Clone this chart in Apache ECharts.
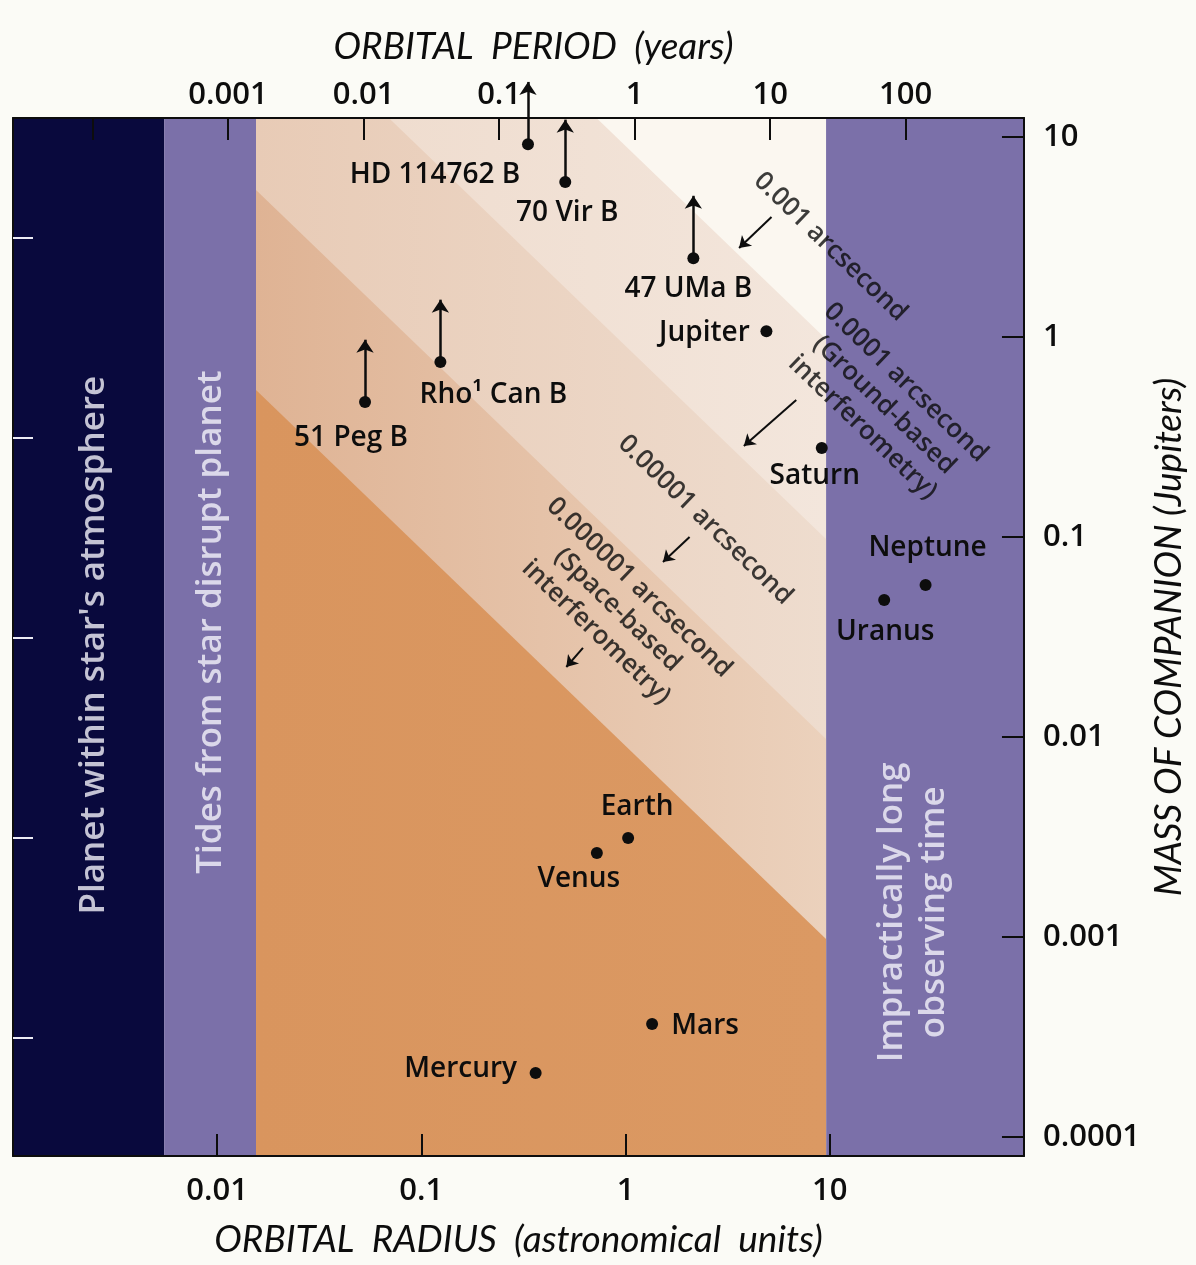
<!DOCTYPE html>
<html>
<head>
<meta charset="utf-8">
<script src="https://cdn.jsdelivr.net/npm/echarts@6/dist/echarts.min.js"></script>
<style>
  html, body { margin: 0; padding: 0; background: #fbfbf6; }
  #chart { width: 1196px; height: 1265px; }
</style>
</head>
<body>
<div id="chart"></div>
<script>
// Axis extents: orbital radius (AU), companion mass (Jupiter masses), orbital period (years)
const RADIUS_RANGE = [0.001, 89.5];
const MASS_RANGE = [8.04e-5, 12.45];
const PERIOD_RANGE = [2.59e-5, 746];
const EARTH_MASSES_PER_JUPITER = 317.8;

const RADIUS_TICKS = ['0.01', '0.1', '1', '10'];
const PERIOD_TICKS = ['0.001', '0.01', '0.1', '1', '10', '100'];
const MASS_TICKS = ['0.0001', '0.001', '0.01', '0.1', '1', '10'];

// Zone limits (AU)
const STAR_SURFACE = 0.0055;
const TIDAL_LIMIT = 0.0155;
const OBSERVING_LIMIT = 9.6;

// Astrometric detection thresholds: companion mass at the inner and outer zone limits
const thresholdNames = [
  '0.001 arcsecond',
  '0.0001 arcsecond\n(Ground-based\ninterferometry)',
  '0.00001 arcsecond',
  '0.000001 arcsecond\n(Space-based\ninterferometry)'
];
const thresholdInnerMass = [543, 54.3, 5.43, 0.543];
const thresholdOuterMass = [0.977, 0.0977, 0.00977, 0.000977];
const thresholdLabelRadius = [10.1, 18.5, 2.46, 0.915];
const thresholdLabelMass = [2.82, 0.457, 0.1216, 0.0432];
const thresholdArrowFrom = [[5.19, 3.98], [6.86, 0.484], [2.06, 0.1], [0.619, 0.0279]];
const thresholdArrowTo = [[3.6, 2.79], [3.8, 0.285], [1.526, 0.075], [0.513, 0.0224]];

// Known companions
const companionNames = ['HD 114762 B', '70 Vir B', '47 UMa B', 'Rho\u00b9 Can B', '51 Peg B',
  'Jupiter', 'Saturn', 'Uranus', 'Neptune', 'Earth', 'Venus', 'Mars', 'Mercury'];
const companionRadius = [0.333, 0.507, 2.15, 0.124, 0.053, 4.9, 9.15, 18.5, 29.5, 1.03, 0.724, 1.35, 0.363];
const companionMass = [9.2, 5.96, 2.48, 0.75, 0.473, 1.07, 0.279, 0.0484, 0.0575, 0.00313, 0.00263, 0.000367, 0.000209];
const massIsLowerLimit = [true, true, true, true, true, false, false, false, false, false, false, false, false];

// Excluded zones
const zoneNames = ["Planet within star's atmosphere", 'Tides from star disrupt planet', 'Impractically long\nobserving time'];
const zoneLabelRadius = [0.00249, 0.00935, 25.5];
const zoneLabelMass = [0.0288, 0.0376, 0.00133];

// ---- styling ----
const INK = '#0d0d0d';
const NAVY = '#09093d';
const PURPLE = '#7b70a9';
const ARROW_SPAN = 2.05;       // mass ratio between a lower-limit dot and its arrow tip
const LABEL_OFFSET = {
  'HD 114762 B': [-93, 31], '70 Vir B': [2, 31], '47 UMa B': [-5, 31],
  'Rho\u00b9 Can B': [53, 33], '51 Peg B': [-14, 36], 'Jupiter': [-62, 2],
  'Saturn': [-7, 28], 'Uranus': [1, 32], 'Neptune': [2, -37], 'Earth': [9, -31],
  'Venus': [-18, 26], 'Mars': [53, 2], 'Mercury': [-75, -4]
};
const BAND_COLORS = [
  ['#eedacb', '#f3e6dc'],
  ['#e8cbb6', '#eedcce'],
  ['#dfb394', '#ebd1bc'],
  ['#d9955e', '#db9963']
];
const SANS = '"Open Sans", "DejaVu Sans", sans-serif';
const TITLE = { fontFamily: 'Lato, "Open Sans", sans-serif', fontStyle: 'italic', fontSize: 37, color: INK };

const [aMin, aMax] = RADIUS_RANGE;
const [mMin, mMax] = MASS_RANGE;
const rect = (a0, a1) => [[a0, mMin], [a1, mMin], [a1, mMax], [a0, mMax]];
const grad = (c) => new echarts.graphic.LinearGradient(0, 0, 1, 0, [
  { offset: 0, color: c[0] }, { offset: 1, color: c[1] }
]);

const regions = [
  { poly: rect(aMin, STAR_SURFACE), fill: NAVY },
  { poly: rect(STAR_SURFACE, TIDAL_LIMIT), fill: PURPLE },
  { poly: rect(OBSERVING_LIMIT, aMax), fill: PURPLE },
  { poly: rect(TIDAL_LIMIT, OBSERVING_LIMIT), fill: '#fbf7f0' }
].concat(thresholdNames.map((_, i) => ({
  poly: [[TIDAL_LIMIT, thresholdInnerMass[i]], [OBSERVING_LIMIT, thresholdOuterMass[i]],
         [OBSERVING_LIMIT, mMin], [TIDAL_LIMIT, mMin]],
  fill: grad(BAND_COLORS[i])
})));

function tickFormatter(list) {
  return (v) => {
    const hit = list.find(t => Math.abs(Math.log10(+t) - Math.log10(v)) < 1e-6);
    return hit || '';
  };
}

const axisCommon = {
  type: 'log',
  logBase: 10,
  splitLine: { show: false },
  axisLine: { show: true, lineStyle: { color: INK, width: 2 } },
  axisTick: { show: true, inside: true, length: 22, lineStyle: { color: INK, width: 2 } },
  axisLabel: { fontFamily: SANS, fontWeight: 600, fontSize: 31, color: INK }
};

const chart = echarts.init(document.getElementById('chart'), null, { renderer: 'canvas' });

chart.setOption({
  animation: false,
  backgroundColor: '#fbfbf6',
  grid: { left: 13, right: 158, top: 118, bottom: 109 },
  xAxis: [
    Object.assign({}, axisCommon, {
      position: 'bottom', min: RADIUS_RANGE[0], max: RADIUS_RANGE[1], z: 6,
      axisLabel: Object.assign({}, axisCommon.axisLabel, { margin: 20, formatter: tickFormatter(RADIUS_TICKS) }),
      name: 'ORBITAL  RADIUS  (astronomical  units)', nameLocation: 'middle', nameGap: 66,
      nameTextStyle: TITLE
    }),
    Object.assign({}, axisCommon, {
      position: 'top', min: PERIOD_RANGE[0], max: PERIOD_RANGE[1], z: 6,
      axisLabel: Object.assign({}, axisCommon.axisLabel, { margin: 7, formatter: tickFormatter(PERIOD_TICKS) }),
      name: 'ORBITAL  PERIOD  (years)', nameLocation: 'middle', nameGap: 52,
      nameTextStyle: Object.assign({}, TITLE, { padding: [0, 0, 0, 30] })
    })
  ],
  yAxis: [
    Object.assign({}, axisCommon, {
      position: 'right', min: MASS_RANGE[0], max: MASS_RANGE[1], z: 5,
      axisLabel: Object.assign({}, axisCommon.axisLabel, { margin: 19, align: 'left', formatter: tickFormatter(MASS_TICKS) }),
      name: 'MASS OF COMPANION (Jupiters)', nameLocation: 'middle', nameGap: 98,
      nameTextStyle: TITLE
    }),
    Object.assign({}, axisCommon, {
      position: 'left',
      min: MASS_RANGE[0] * EARTH_MASSES_PER_JUPITER, max: MASS_RANGE[1] * EARTH_MASSES_PER_JUPITER, z: 5,
      axisTick: { show: true, inside: true, length: 20, lineStyle: { color: '#ecebf4', width: 2 } },
      axisLabel: { show: false }
    })
  ],
  series: [
    {
      type: 'custom',
      clip: true,
      silent: true,
      z: 1,
      data: regions.map(r => r.poly[0]),
      encode: { x: 0, y: 1 },
      renderItem: (params, api) => {
        const r = regions[params.dataIndex];
        return {
          type: 'polygon',
          shape: { points: r.poly.map(p => api.coord(p)) },
          style: { fill: r.fill }
        };
      }
    },
    {
      // excluded-zone captions
      type: 'scatter', silent: true, z: 8, symbolSize: 0,
      data: zoneNames.map((n, i) => ({ name: n, value: [zoneLabelRadius[i], zoneLabelMass[i]] })),
      label: {
        show: true, position: 'inside', formatter: '{b}', rotate: 90,
        color: '#f4f2fa', fontFamily: SANS, fontWeight: 600, fontSize: 35, lineHeight: 42, align: 'center'
      }
    },
    {
      // threshold captions
      type: 'scatter', silent: true, z: 8, symbolSize: 0,
      data: thresholdNames.map((n, i) => ({ name: n, value: [thresholdLabelRadius[i], thresholdLabelMass[i]] })),
      label: {
        show: true, position: 'inside', formatter: '{b}', rotate: -44,
        color: INK, fontFamily: SANS, fontWeight: 600, fontSize: 26, lineHeight: 31, align: 'center'
      }
    },
    {
      // threshold direction arrows
      type: 'lines', coordinateSystem: 'cartesian2d', silent: true, z: 8, clip: false,
      symbol: ['none', 'arrow'], symbolSize: [4, 11],
      lineStyle: { color: INK, width: 2, opacity: 1 },
      data: thresholdArrowFrom.map((p, i) => ({ coords: [p, thresholdArrowTo[i]] }))
    },
    {
      // lower-limit arrows for minimum masses
      type: 'lines', coordinateSystem: 'cartesian2d', silent: true, z: 9, clip: false,
      symbol: ['none', 'arrow'], symbolSize: [4, 13],
      lineStyle: { color: INK, width: 2.5, opacity: 1 },
      data: companionNames.map((n, i) => massIsLowerLimit[i]
        ? { coords: [[companionRadius[i], companionMass[i]], [companionRadius[i], companionMass[i] * ARROW_SPAN]] }
        : null).filter(Boolean)
    },
    {
      type: 'scatter', silent: true, z: 10, symbol: 'circle', symbolSize: 12,
      itemStyle: { color: INK, opacity: 1 },
      data: companionNames.map((n, i) => ({
        name: n, value: [companionRadius[i], companionMass[i]],
        label: { offset: LABEL_OFFSET[n] }
      })),
      label: {
        show: true, position: 'inside', formatter: '{b}',
        color: INK, fontFamily: SANS, fontWeight: 600, fontSize: 28, align: 'center', verticalAlign: 'middle'
      }
    }
  ]
});
</script>
</body>
</html>
